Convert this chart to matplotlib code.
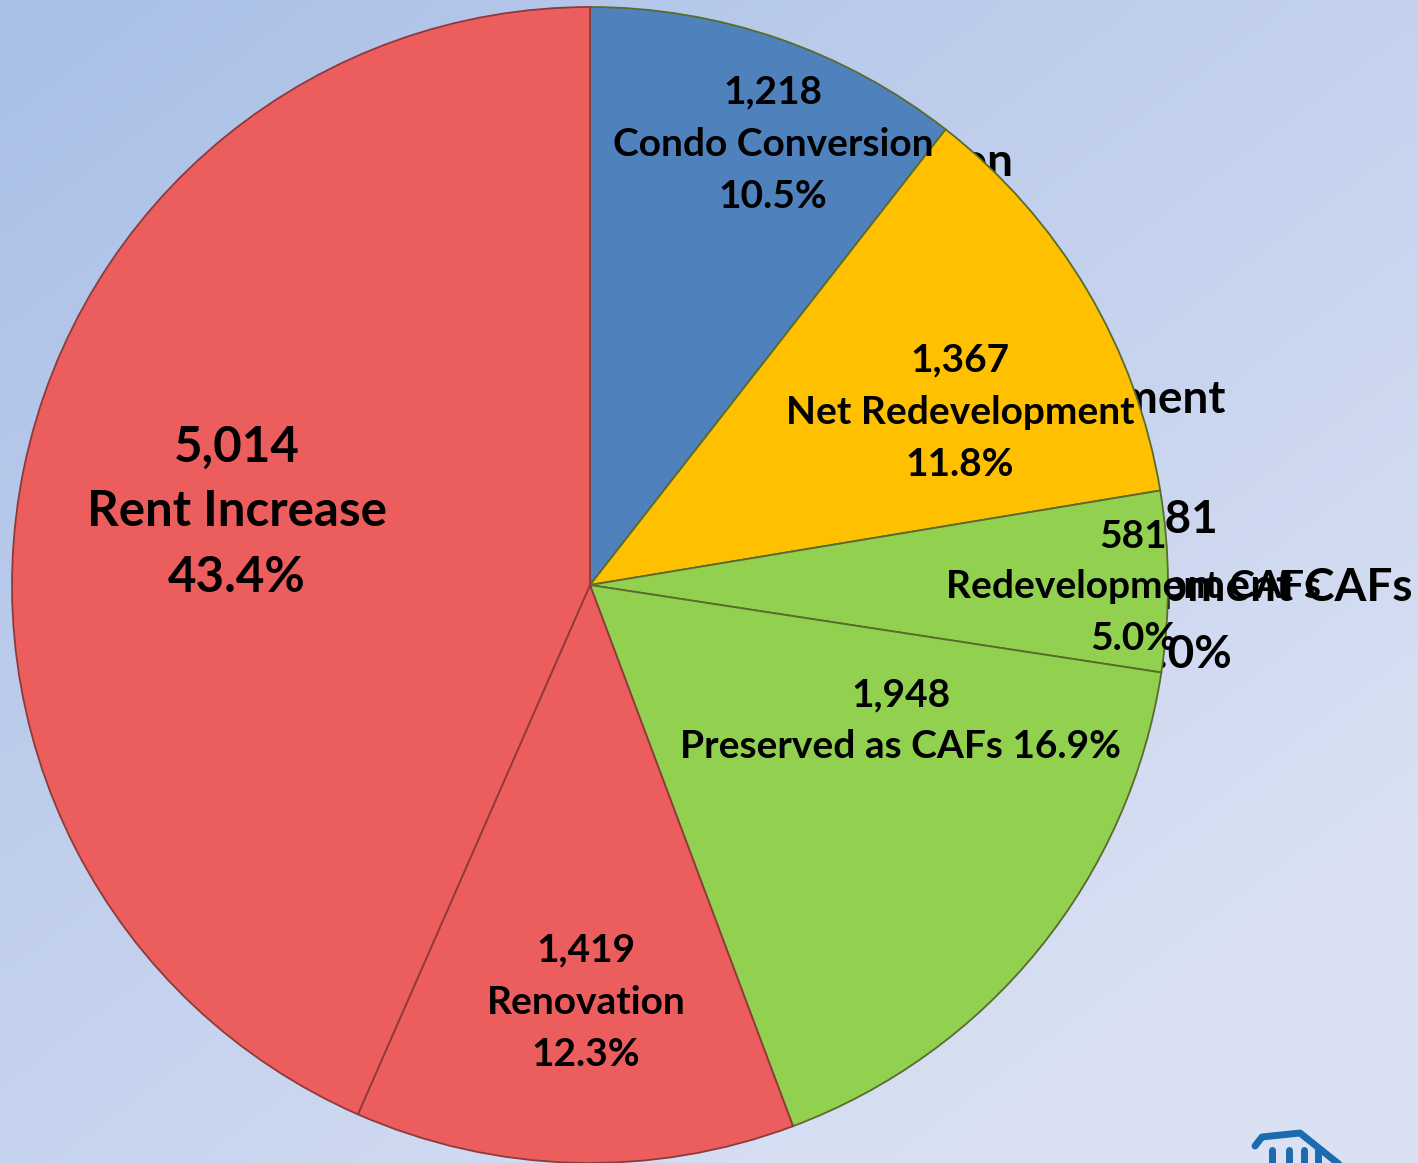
import matplotlib
matplotlib.use("Agg")
import matplotlib.pyplot as plt
import numpy as np

# data
labels = ["Condo Conversion", "Net Redevelopment", "Redevelopment CAFs",
          "Preserved as CAFs", "Renovation", "Rent Increase"]
values = [1218, 1367, 581, 1948, 1419, 5014]
percents = ["10.5%", "11.8%", "5.0%", "16.9%", "12.3%", "43.4%"]
colors = ["#4F81BD", "#FFC000", "#92D050", "#92D050", "#EC5D5E", "#EC5D5E"]
edges = ["#5A6B2E", "#5A6B2E", "#5A6B2E", "#5A6B2E", "#8E3A3A", "#8E3A3A"]

W, H = 1418, 1163
CX, CY, R = 590, 585, 578


def px(x, y):
    # pixel position -> data coords (pie radius 1 at centre)
    return (x - CX) / R, (CY - y) / R


fig = plt.figure(figsize=(W / 100, H / 100), dpi=100)
ax = fig.add_axes([0, 0, 1, 1])
x0, y1 = px(0, 0)
x1, y0 = px(W, H)

# background gradient, top-left darker
gx, gy = np.meshgrid(np.linspace(0, 1, 300), np.linspace(0, 1, 250))
t = np.clip(0.55 * gx + 0.6 * gy, 0, 1)[..., None]
c0 = np.array([169, 191, 231]) / 255
c1 = np.array([218, 225, 243]) / 255
ax.imshow(c0 + (c1 - c0) * t, extent=[x0, x1, y0, y1], zorder=0,
          aspect="auto", interpolation="bilinear")

fam = ["Lato", "DejaVu Sans"]

# ghost labels sitting behind the pie
ghost = [("Condo Conversion", 1013, 163), ("Net Redevelopment", 1225, 400),
         ("581", 1218, 520), ("Redevelopment CAFs", 1412, 588), ("5.0%", 1232, 655)]
for s, gx_, gy_ in ghost:
    ax.text(*px(gx_, gy_), s, ha="right", va="center", fontsize=33,
            fontweight="bold", family=fam, zorder=1)

wedges, _ = ax.pie(values, startangle=90, counterclock=False, colors=colors,
                   radius=1, center=(0, 0),
                   wedgeprops=dict(linewidth=1.3))
for w, e in zip(wedges, edges):
    w.set_edgecolor(e)
    w.set_zorder(2)

# data labels
lab_pos = [(773, 144, 52, 28), (960, 412, 52, 28), (1133, 587, 51, 28),
           (901, 721, 52, 28), (586, 1002, 52, 28), (237, 512, 65, 35.5)]
for i, (lx, ly, step, fs) in enumerate(lab_pos):
    if labels[i] == "Preserved as CAFs":
        lines = [f"{values[i]:,}", f"{labels[i]} {percents[i]}"]
    else:
        lines = [f"{values[i]:,}", labels[i], percents[i]]
    n = len(lines)
    for k, s in enumerate(lines):
        yy = ly + (k - (n - 1) / 2) * step
        ax.text(*px(lx, yy), s, ha="center", va="center", fontsize=fs,
                fontweight="bold", family=fam, zorder=3)

# partial logo bottom right
lx, ly = zip(*[px(1255, 1146), px(1262, 1137), px(1300, 1133), px(1340, 1165)])
ax.plot(lx, ly, color="#1C6BAE", lw=5, solid_capstyle="round", zorder=1)
for bx in [1272, 1289, 1304, 1318]:
    bxs, bys = zip(*[px(bx, 1150), px(bx, 1165)])
    ax.plot(bxs, bys, color="#1C6BAE", lw=5, solid_capstyle="round", zorder=1)

ax.set_xlim(x0, x1)
ax.set_ylim(y0, y1)
ax.set_aspect("auto")
ax.axis("off")
fig.savefig("out.png", dpi=100)
